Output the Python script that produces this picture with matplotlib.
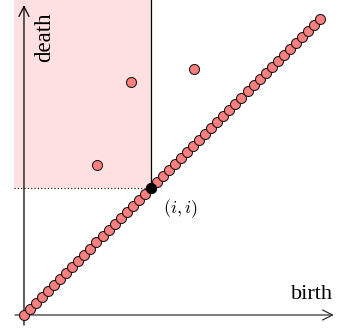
import numpy as np
import matplotlib
matplotlib.use("Agg")
import matplotlib.pyplot as plt
from matplotlib.patches import Rectangle

plt.rcParams['mathtext.fontset'] = 'cm'

# data
n_diag = 50
diag = np.arange(n_diag)
special_idx = 21
off_x = [17.7, 12.1, 28.1]
off_y = [38.5, 24.8, 40.8]
x_label = "birth"
y_label = "death"
pt_label = "$(i,i)$"

fig = plt.figure(figsize=(3.39, 3.29), dpi=100)
ax = fig.add_axes([0, 0, 1, 1])
ax.set_xlim(-3.97, 52.14)
ax.set_ylim(-2.32, 52.14)
ax.axis('off')

i = diag[special_idx]
top = 52.14
left = -1.66
# shaded quadrant
ax.add_patch(Rectangle((left, i), i - left, top - i, facecolor='#ffe0e0',
                       edgecolor='none', zorder=0))
ax.plot([i, i], [i, top], color='black', lw=0.9, zorder=1)
ax.plot([left, i], [i, i], color='black', lw=0.8, ls=(0, (1, 2)), zorder=1)

# axes arrows
ax.annotate('', xy=(51.3, 0), xytext=(-1.49, 0),
            arrowprops=dict(arrowstyle='->', lw=0.9, color='#333333',
                            mutation_scale=18, shrinkA=0, shrinkB=0), zorder=1)
ax.annotate('', xy=(0, 51.3), xytext=(0, -1.66),
            arrowprops=dict(arrowstyle='->', lw=0.9, color='black',
                            mutation_scale=18, shrinkA=0, shrinkB=0), zorder=1)

ax.text(51.2, 1.75, x_label, fontsize=16, family='Liberation Serif',
        ha='right', va='bottom')
ax.text(3.48, 50.16, y_label, fontsize=16.5, family='Liberation Serif',
        rotation=90, ha='center', va='top')

ms = 7.2
ax.plot(diag, diag, 'o', ms=ms, mfc='#ff7f7f', mec='#1a1a1a', mew=0.8, ls='none', zorder=3)
ax.plot(off_x, off_y, 'o', ms=ms, mfc='#ff7f7f', mec='#1a1a1a', mew=0.8, ls='none', zorder=3)
ax.plot([i], [i], 'o', ms=ms, mfc='black', mec='black', mew=0.8, zorder=4)

ax.text(i + 4.82, i - 3.46, pt_label, fontsize=13, ha='center', va='center')

fig.savefig('out.png', dpi=100)
